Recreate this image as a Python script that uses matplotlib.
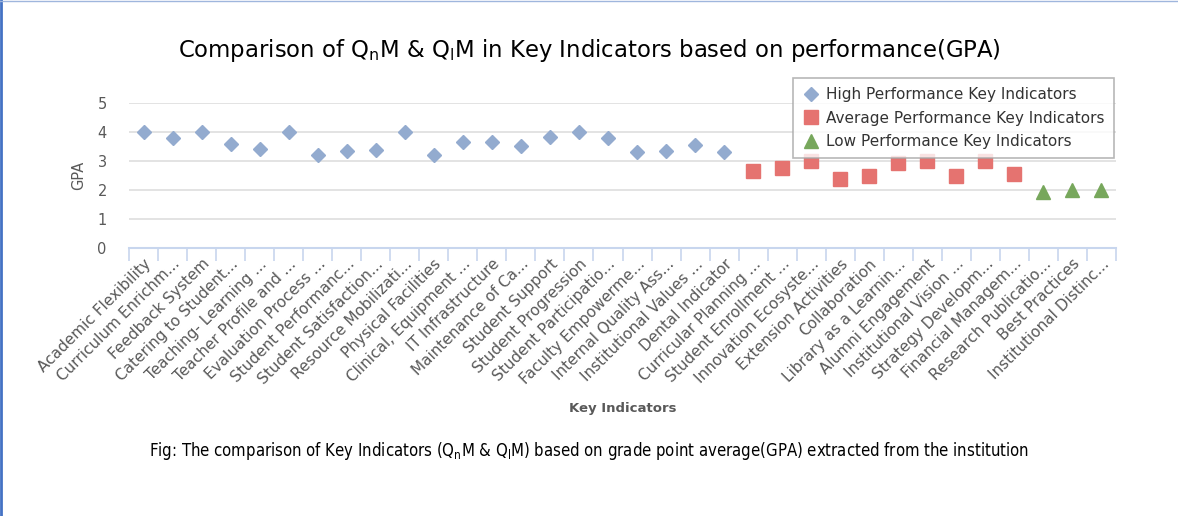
import numpy as np
import matplotlib
matplotlib.use("Agg")
import matplotlib.pyplot as plt
from matplotlib.lines import Line2D

# key indicator names (truncated as on the chart)
high_labels = ["Academic Flexibility", "Curriculum Enrichm...", "Feedback System",
               "Catering to Student...", "Teaching- Learning ...", "Teacher Profile and ...",
               "Evaluation Process ...", "Student Performanc...", "Student Satisfaction...",
               "Resource Mobilizati...", "Physical Facilities", "Clinical, Equipment ...",
               "IT Infrastructure", "Maintenance of Ca...", "Student Support",
               "Student Progression", "Student Participatio...", "Faculty Empowerme...",
               "Internal Quality Ass...", "Institutional Values ...", "Dental Indicator"]
avg_labels = ["Curricular Planning ...", "Student Enrollment ...", "Innovation Ecosyste...",
              "Extension Activities", "Collaboration", "Library as a Learnin...",
              "Alumni Engagement", "Institutional Vision ...", "Strategy Developm...",
              "Financial Managem..."]
low_labels = ["Research Publicatio...", "Best Practices", "Institutional Distinc..."]

high_gpa = [4.0, 3.8, 4.0, 3.6, 3.43, 4.0, 3.2, 3.33, 3.39, 4.0, 3.2, 3.64, 3.64,
            3.52, 3.84, 4.0, 3.8, 3.3, 3.33, 3.56, 3.3]
avg_gpa = [2.65, 2.76, 3.0, 2.38, 2.48, 2.94, 3.0, 2.48, 3.0, 2.55]
low_gpa = [1.92, 2.0, 2.0]

labels = high_labels + avg_labels + low_labels
n = len(labels)
x_high = np.arange(len(high_labels))
x_avg = np.arange(len(avg_labels)) + len(high_labels)
x_low = np.arange(len(low_labels)) + len(high_labels) + len(avg_labels)

fig = plt.figure(figsize=(11.78, 5.16), dpi=100)
ax = fig.add_axes([129/1178, 1-248/516, (1116-129)/1178, (248-103)/516])

ax.plot(x_high, high_gpa, 'D', color="#93abcf", markersize=7, linestyle='none',
        label="High Performance Key Indicators", zorder=3)
ax.plot(x_avg, avg_gpa, 's', color="#e57370", markersize=10, linestyle='none',
        label="Average Performance Key Indicators", zorder=3)
ax.plot(x_low, low_gpa, '^', color="#77a75c", markersize=9.5, linestyle='none',
        label="Low Performance Key Indicators", zorder=3)

ax.set_xlim(-0.5, n-0.5)
ax.set_ylim(0, 5)
ax.set_yticks(range(6))
ax.yaxis.grid(True, color="#dedede", linewidth=1.2)
ax.set_axisbelow(True)
for s in ['left', 'right', 'top']:
    ax.spines[s].set_visible(False)
ax.spines['bottom'].set_color("#c8d6ee")
ax.spines['bottom'].set_linewidth(1.5)

ax.set_xticks(range(n))
ax.set_xticklabels(labels, rotation=45, ha='right', rotation_mode='anchor',
                   fontsize=11, color="#595959")
ax.set_xticks(np.arange(-0.5, n, 1), minor=True)
ax.tick_params(axis='x', which='major', length=0, pad=6)
ax.tick_params(axis='x', which='minor', length=9, color="#c8d6ee", width=1.2)
ax.tick_params(axis='y', length=0, pad=16, labelsize=10.5, labelcolor="#595959")

ax.set_ylabel("GPA", fontsize=10.5, color="#595959", labelpad=8)
ax.set_xlabel("Key Indicators", fontsize=9.5, color="#595959", fontweight='bold')
ax.xaxis.set_label_coords(0.5, -1.065)

fig.text(0.5, 1-50/516, r"Comparison of Q$_\mathregular{n}$M & Q$_\mathregular{l}$M in Key Indicators based on performance(GPA)",
         ha='center', va='center', fontsize=16.4, color='black')

fig.text(589/1178, 1-451/516,
         r"Fig: The comparison of Key Indicators (Q$_\mathregular{n}$M & Q$_\mathregular{l}$M) based on grade point average(GPA) extracted from the institution",
         ha='center', va='center', fontsize=12, color='black', fontstretch='condensed')

leg = ax.legend(loc='upper right', bbox_to_anchor=(1114/1178, 1-78/516),
                bbox_transform=fig.transFigure, fontsize=11, frameon=True,
                fancybox=False, edgecolor="#a6a6a6", handletextpad=0.4,
                borderpad=0.6, labelspacing=0.55, handlelength=1.2, borderaxespad=0)
leg.get_frame().set_linewidth(1.2)
for t in leg.get_texts():
    t.set_color("#333333")

# document frame lines
fig.add_artist(Line2D([0.001, 0.001], [0, 1], transform=fig.transFigure, color="#4472c4", linewidth=2))
fig.add_artist(Line2D([0, 1], [0.999, 0.999], transform=fig.transFigure, color="#9fb6dd", linewidth=1))

fig.savefig("out.png", dpi=100)
